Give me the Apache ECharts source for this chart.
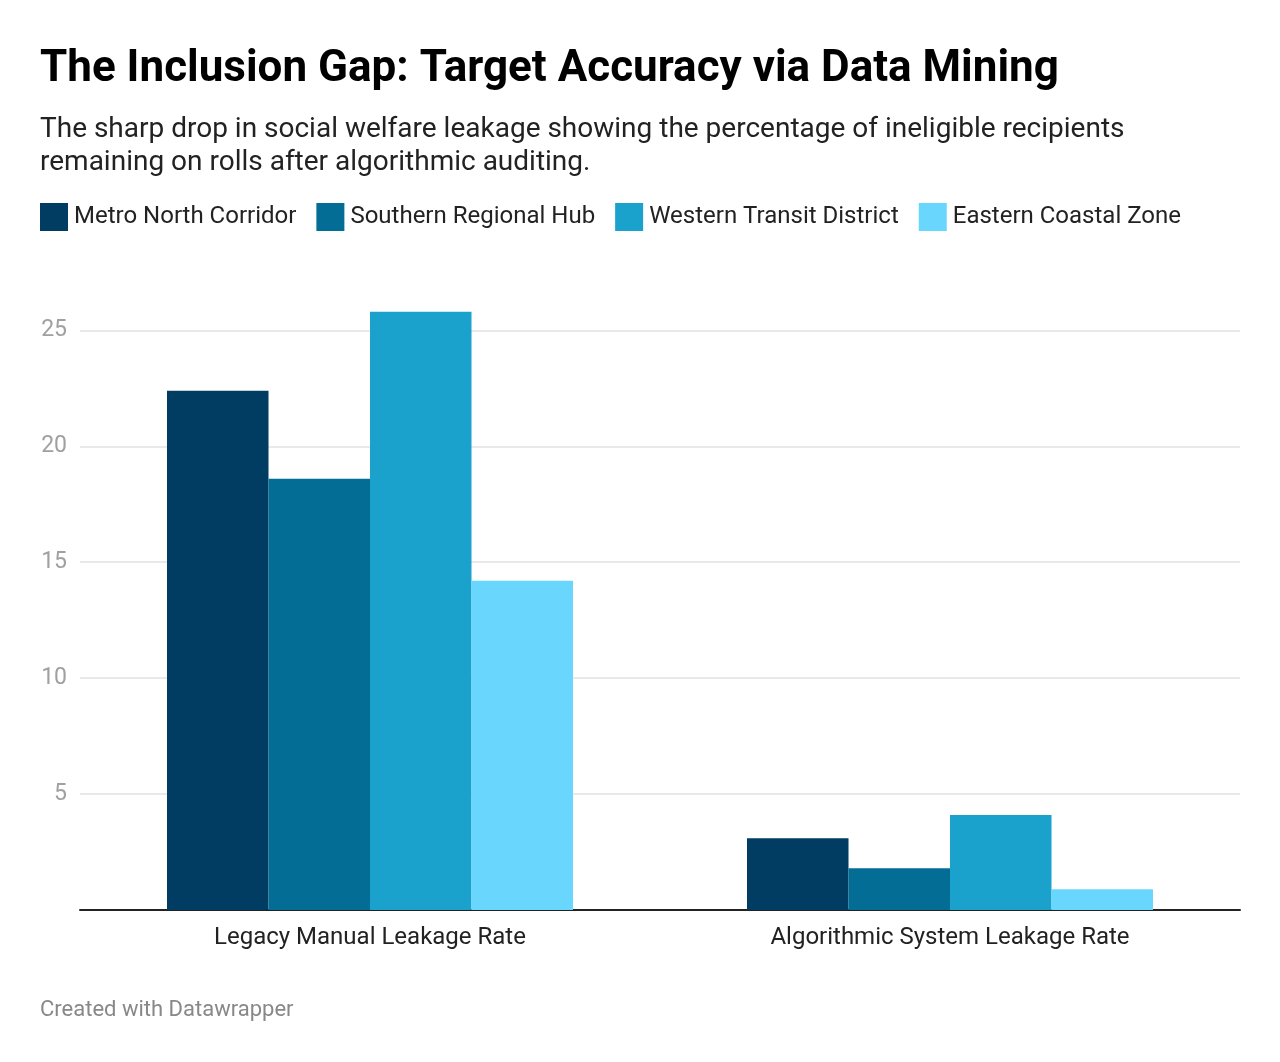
<!DOCTYPE html>
<html>
<head>
<meta charset="utf-8">
<script src="https://cdn.jsdelivr.net/npm/echarts@6/dist/echarts.min.js"></script>
<style>
  html, body { margin: 0; padding: 0; background: #fff; }
  #chart { width: 1280px; height: 1062px; }
</style>
</head>
<body>
<div id="chart"></div>
<script>
// categories + series values (percent of ineligible recipients)
var categories = ['Legacy Manual Leakage Rate', 'Algorithmic System Leakage Rate'];
var seriesNames = ['Metro North Corridor', 'Southern Regional Hub', 'Western Transit District', 'Eastern Coastal Zone'];
var metroNorth = [22.4, 3.1];
var southernHub = [18.6, 1.8];
var westernTransit = [25.8, 4.1];
var easternCoastal = [14.2, 0.9];
var colors = ['#013d63', '#036d96', '#1aa2cd', '#69d6fd'];

(function(window){
    var font = 'Roboto, "Noto Sans", sans-serif';
    var values = [metroNorth, southernHub, westernTransit, easternCoastal];

    var series = seriesNames.map(function(name, i){
        return {
            name: name,
            type: 'bar',
            data: values[i],
            barGap: '0%',
            barCategoryGap: '30%',
            itemStyle: { color: colors[i] },
            emphasis: { disabled: true }
        };
    });

    var option = {
        backgroundColor: '#fff',
        animation: false,
        textStyle: { fontFamily: font },
        title: [
            {
                text: 'The Inclusion Gap: Target Accuracy via Data Mining',
                left: 35, top: 43,
                textStyle: { fontSize: 44, fontWeight: 'bold', color: '#000', fontFamily: font }
            },
            {
                text: 'The sharp drop in social welfare leakage showing the percentage of ineligible recipients\nremaining on rolls after algorithmic auditing.',
                left: 35, top: 108,
                textStyle: { fontSize: 28, fontWeight: 'normal', color: '#222', lineHeight: 33, fontFamily: font }
            },
            {
                text: 'Created with Datawrapper',
                left: 35, top: 994,
                textStyle: { fontSize: 22, fontWeight: 'normal', color: '#888', fontFamily: font }
            }
        ],
        legend: {
            left: 35, top: 198,
            icon: 'rect',
            itemWidth: 28, itemHeight: 28,
            itemGap: 20,
            selectedMode: false,
            textStyle: { fontSize: 24, color: '#222', fontFamily: font, padding: [0, 0, 0, 1] },
            data: seriesNames
        },
        grid: { left: 80, right: 40, top: 284, bottom: 152, containLabel: false },
        xAxis: {
            type: 'category',
            data: categories,
            axisLine: { lineStyle: { color: '#222', width: 2 } },
            axisTick: { show: false },
            axisLabel: { fontSize: 24, color: '#222', margin: 16, fontFamily: font }
        },
        yAxis: {
            type: 'value',
            min: 0, max: 27, interval: 5,
            axisLine: { show: false },
            axisTick: { show: false },
            axisLabel: {
                fontSize: 23, color: '#a0a0a0', margin: 13, fontFamily: font,
                showMinLabel: false, showMaxLabel: false,
                formatter: function(v){ return v % 5 === 0 && v > 0 ? String(v) : ''; }
            },
            splitLine: { showMinLine: false, showMaxLine: false, lineStyle: { color: '#e2e2e2', width: 1.5 } }
        },
        series: series
    };

    var chart = echarts.init(document.getElementById('chart'), null, { renderer: 'canvas' });
    chart.setOption(option);
})(window);
</script>
</body>
</html>
